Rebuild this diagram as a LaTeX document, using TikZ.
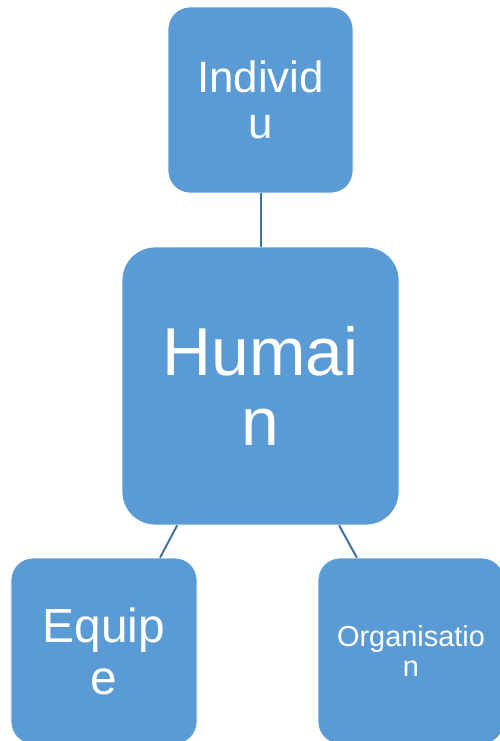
\documentclass[tikz,border=0pt]{standalone}
\usepackage{fontspec}
\setmainfont{Liberation Sans}
\usetikzlibrary{calc}
\definecolor{boxblue}{HTML}{5B9BD5}
\definecolor{linkblue}{HTML}{41719C}
\tikzset{
  box/.style={rectangle, fill=boxblue, draw=white, line width=0.8bp,
    text=white, align=center, inner sep=0pt},
  link/.style={draw=linkblue, line width=2bp}
}
\begin{document}
\begin{tikzpicture}[x=1bp, y=-1bp]
  \useasboundingbox (0,0) rectangle (500,741);
  % four rounded boxes
  \node[box, minimum width=185bp, minimum height=186bp, rounded corners=22bp,
    font=\fontsize{44}{46}\selectfont]
    (ind) at (260.5,100) {Individ\\u};
  \node[box, minimum width=277bp, minimum height=278bp, rounded corners=33bp,
    font=\fontsize{68}{71}\selectfont]
    (hum) at (260.5,386) {Humai\\n};
  \node[box, minimum width=186bp, minimum height=186bp, rounded corners=22bp,
    font=\fontsize{48}{52}\selectfont]
    (equ) at (104,651) {Equip\\e};
  \node[box, minimum width=186bp, minimum height=186bp, rounded corners=22bp,
    font=\fontsize{29}{30}\selectfont]
    (org) at (411,651) {Organisatio\\n};
  % connectors
  \draw[link] (ind.south) -- (hum.north);
  \draw[link] ($(hum.south west)!0.2!(hum.south east)$) -- ($(equ.north west)!0.8!(equ.north east)$);
  \draw[link] ($(hum.south west)!0.783!(hum.south east)$) -- ($(org.north west)!0.21!(org.north east)$);
\end{tikzpicture}
\end{document}
